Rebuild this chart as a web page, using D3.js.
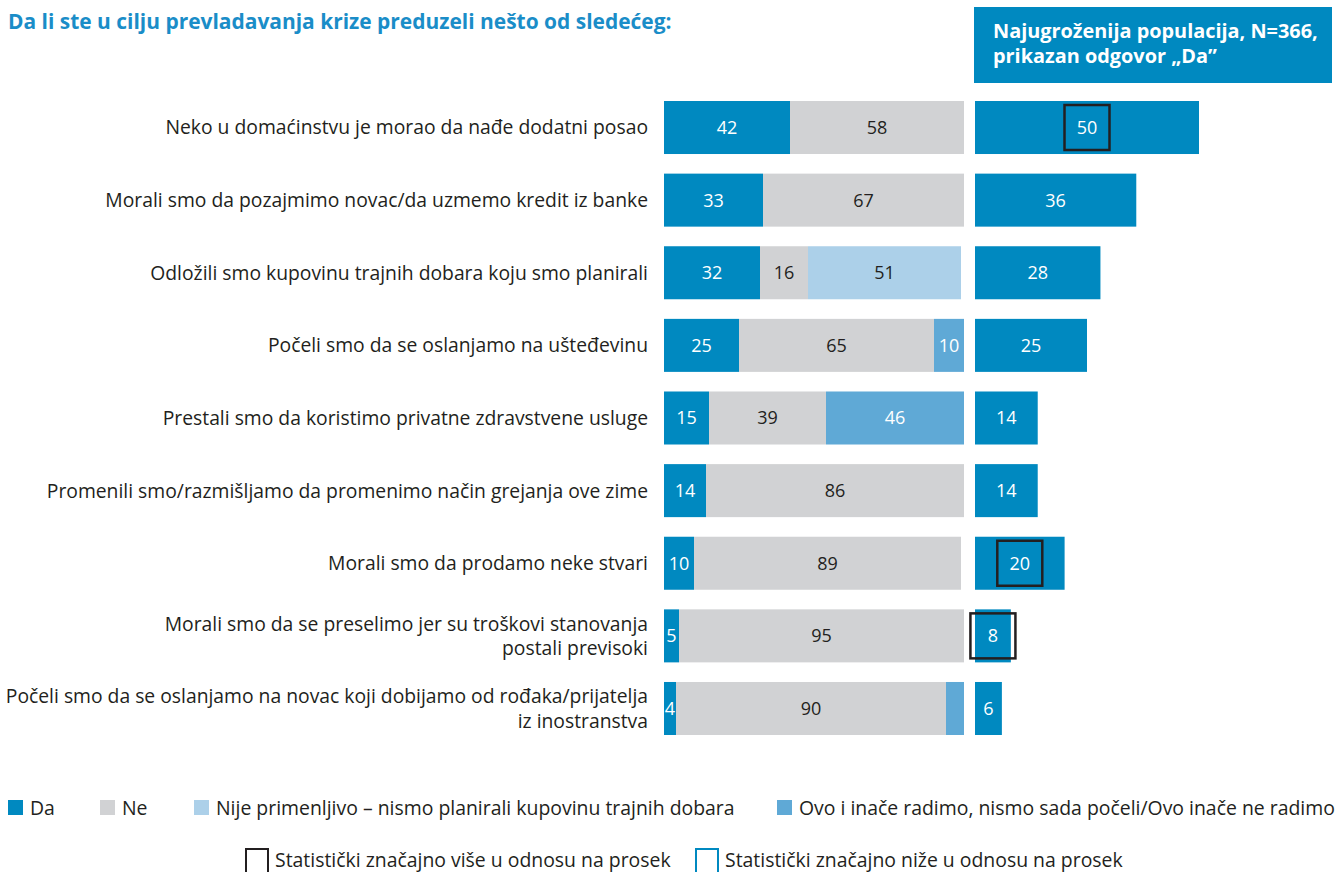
<!DOCTYPE html>
<html>
<head>
<meta charset="utf-8">
<script src="https://cdn.jsdelivr.net/npm/d3@7"></script>
<style>
  html, body { margin: 0; padding: 0; background: #fff; }
  svg { display: block; }
</style>
</head>
<body>
<svg id="chart" width="1340" height="872"></svg>
<script>
// ---------------- DATA ----------------
const title = "Da li ste u cilju prevladavanja krize preduzeli nešto od sledećeg:";
const headerLines = ["Najugroženija populacija, N=366,", "prikazan odgovor „Da”"];

const categories = [
  "Neko u domaćinstvu je morao da nađe dodatni posao",
  "Morali smo da pozajmimo novac/da uzmemo kredit iz banke",
  "Odložili smo kupovinu trajnih dobara koju smo planirali",
  "Počeli smo da se oslanjamo na ušteđevinu",
  "Prestali smo da koristimo privatne zdravstvene usluge",
  "Promenili smo/razmišljamo da promenimo način grejanja ove zime",
  "Morali smo da prodamo neke stvari",
  "Morali smo da se preselimo jer su troškovi stanovanja\npostali previsoki",
  "Počeli smo da se oslanjamo na novac koji dobijamo od rođaka/prijatelja\niz inostranstva"
];

const da   = [42, 33, 32, 25, 15, 14, 10, 5, 4];
const ne   = [58, 67, 16, 65, 39, 86, 89, 95, 90];
const nije = [0, 0, 51, 0, 0, 0, 0, 0, 0];
const ovo  = [0, 0, 0, 10, 46, 0, 0, 0, 6];
// labels written on the "ovo" segments (null = not labelled)
const ovoLabels = [null, null, null, 10, 46, null, null, null, null];

const vulnerable = [50, 36, 28, 25, 14, 14, 20, 8, 6];
const significance = ["higher", null, null, null, null, null, "higher", "higher", null];

const seriesNames = ["Da", "Ne", "Nije primenljivo – nismo planirali kupovinu trajnih dobara", "Ovo i inače radimo, nismo sada počeli/Ovo inače ne radimo"];
const significanceNames = ["Statistički značajno više u odnosu na prosek", "Statistički značajno niže u odnosu na prosek"];

// ---------------- STYLE ----------------
const C = {
  da: "#0089c0",
  ne: "#d1d2d4",
  nije: "#acd0e9",
  ovo: "#5fa9d6",
  title: "#1a8dc8",
  text: "#231f20",
  boxHigh: "#231f20",
  boxLow: "#0089c0"
};
const FONT = "'Open Sans', 'Noto Sans', sans-serif";

const svg = d3.select("#chart");

// size a font so that a sample string reaches a target width
function fitSize(str, weight, target) {
  const t = svg.append("text").attr("font-family", FONT).attr("font-weight", weight)
    .attr("font-size", 20).text(str);
  const w = t.node().getComputedTextLength();
  t.remove();
  return 20 * target / w;
}
const titleSize = fitSize(title, 700, 664);
const headerSize = fitSize(headerLines[0], 700, 325);
const catSize = fitSize(categories[0], 400, 483);
const legSize = fitSize(seriesNames[2], 400, 519);
const numSize = 18;

// ---------------- SCALES ----------------
const y = d3.scaleBand().domain(d3.range(categories.length)).range([101, 735]).paddingInner(0.27).paddingOuter(0);
const xL = d3.scaleLinear().domain([0, 100]).range([664, 964]);
const xR = d3.scaleLinear().domain([0, 100]).range([975, 1423]);

// ---------------- TITLE ----------------
svg.append("text")
  .attr("x", 8).attr("y", 29)
  .attr("font-family", FONT).attr("font-weight", 700).attr("font-size", titleSize)
  .attr("fill", C.title)
  .text(title);

// header box
svg.append("rect").attr("x", 974).attr("y", 7).attr("width", 358).attr("height", 76).attr("fill", C.da);
headerLines.forEach((ln, i) => {
  svg.append("text")
    .attr("x", 993).attr("y", 38 + i * 25)
    .attr("font-family", FONT).attr("font-weight", 700).attr("font-size", headerSize).attr("fill", "#fff")
    .text(ln);
});

// ---------------- LEFT STACKED BARS ----------------
const keys = ["da", "ne", "nije", "ovo"];
const rows = categories.map((c, i) => ({ i, da: da[i], ne: ne[i], nije: nije[i], ovo: ovo[i] }));
const stack = d3.stack().keys(keys)(rows);

const labelFor = (key, i, v) => {
  if (key === "ovo") return ovoLabels[i];
  return v > 0 ? v : null;
};
const textColor = { da: "#fff", ne: C.text, nije: C.text, ovo: "#fff" };

stack.forEach(layer => {
  const key = layer.key;
  const g = svg.append("g");
  layer.forEach((seg, i) => {
    const v = seg[1] - seg[0];
    if (v <= 0) return;
    g.append("rect")
      .attr("x", xL(seg[0])).attr("y", y(i))
      .attr("width", xL(seg[1]) - xL(seg[0])).attr("height", y.bandwidth())
      .attr("fill", C[key]);
    const lab = labelFor(key, i, v);
    if (lab != null) {
      g.append("text")
        .attr("x", (xL(seg[0]) + xL(seg[1])) / 2)
        .attr("y", y(i) + y.bandwidth() / 2)
        .attr("dy", "0.36em")
        .attr("text-anchor", "middle")
        .attr("font-family", FONT).attr("font-size", numSize)
        .attr("fill", textColor[key])
        .text(lab);
    }
  });
});

// ---------------- CATEGORY LABELS ----------------
const catG = svg.append("g");
categories.forEach((c, i) => {
  const lines = c.split("\n");
  const cy = y(i) + y.bandwidth() / 2;
  const lh = 24.5;
  lines.forEach((ln, k) => {
    catG.append("text")
      .attr("x", 648)
      .attr("y", cy + (k - (lines.length - 1) / 2) * lh)
      .attr("dy", "0.36em")
      .attr("font-family", FONT).attr("font-size", catSize).attr("fill", C.text)
      .attr("text-anchor", "end")
      .text(ln);
  });
});

// ---------------- RIGHT BARS ----------------
const rg = svg.append("g");
vulnerable.forEach((v, i) => {
  rg.append("rect")
    .attr("x", xR(0)).attr("y", y(i))
    .attr("width", xR(v) - xR(0)).attr("height", y.bandwidth())
    .attr("fill", C.da);
  const cx = (xR(0) + xR(v)) / 2;
  const cy = y(i) + y.bandwidth() / 2;
  rg.append("text")
    .attr("x", cx).attr("y", cy).attr("dy", "0.36em")
    .attr("text-anchor", "middle")
    .attr("font-family", FONT).attr("font-size", numSize).attr("fill", "#fff")
    .text(v);
  if (significance[i]) {
    const bw = 45, bh = 45;
    rg.append("rect")
      .attr("x", cx - bw / 2).attr("y", cy - bh / 2)
      .attr("width", bw).attr("height", bh)
      .attr("fill", "none")
      .attr("stroke", significance[i] === "higher" ? C.boxHigh : C.boxLow)
      .attr("stroke-width", 2.5);
  }
});

// ---------------- LEGEND ----------------
const legColors = [C.da, C.ne, C.nije, C.ovo];
const legX = [8, 100, 194, 777];
const lg = svg.append("g");
seriesNames.forEach((n, i) => {
  lg.append("rect").attr("x", legX[i]).attr("y", 800).attr("width", 15).attr("height", 15).attr("fill", legColors[i]);
  lg.append("text")
    .attr("x", legX[i] + 22).attr("y", 808).attr("dy", "0.36em")
    .attr("font-family", FONT).attr("font-size", legSize).attr("fill", C.text)
    .text(n);
});
const sigX = [246, 696];
const sigColors = [C.boxHigh, C.boxLow];
significanceNames.forEach((n, i) => {
  lg.append("rect").attr("x", sigX[i]).attr("y", 849).attr("width", 22).attr("height", 24)
    .attr("fill", "none").attr("stroke", sigColors[i]).attr("stroke-width", 2);
  lg.append("text")
    .attr("x", sigX[i] + 29).attr("y", 860).attr("dy", "0.36em")
    .attr("font-family", FONT).attr("font-size", legSize).attr("fill", C.text)
    .text(n);
});
</script>
</body>
</html>
